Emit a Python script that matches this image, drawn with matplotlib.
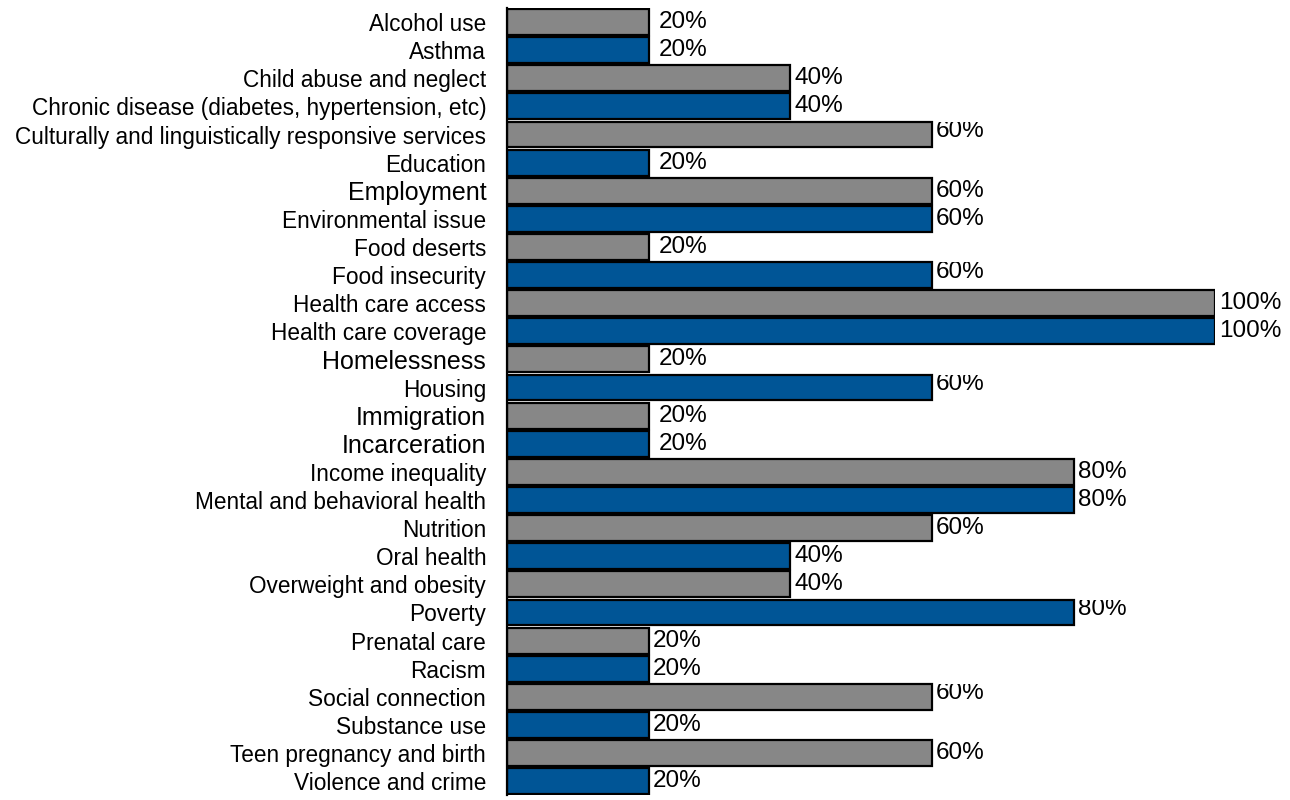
import matplotlib
matplotlib.use("Agg")
import matplotlib.pyplot as plt
from matplotlib.patches import Rectangle

plt.rcParams['font.family'] = ['Liberation Sans', 'DejaVu Sans']

categories = [
    "Alcohol use", "Asthma", "Child abuse and neglect",
    "Chronic disease (diabetes, hypertension, etc)",
    "Culturally and linguistically responsive services", "Education",
    "Employment", "Environmental issue", "Food deserts", "Food insecurity",
    "Health care access", "Health care coverage", "Homelessness", "Housing",
    "Immigration", "Incarceration", "Income inequality",
    "Mental and behavioral health", "Nutrition", "Oral health",
    "Overweight and obesity", "Poverty", "Prenatal care", "Racism",
    "Social connection", "Substance use", "Teen pregnancy and birth",
    "Violence and crime",
]
values = [20, 20, 40, 40, 60, 20, 60, 60, 20, 60, 100, 100, 20, 60, 20, 20,
          80, 80, 60, 40, 40, 80, 20, 20, 60, 20, 60, 20]
value_labels = [f"{v}%" for v in values]
big_labels = ["Employment", "Homelessness", "Immigration", "Incarceration"]
shifted_labels = ["Culturally and linguistically responsive services",
                  "Food insecurity", "Housing", "Poverty",
                  "Social connection"]
wide_gap_labels = ["Alcohol use", "Asthma", "Education", "Food deserts",
                   "Homelessness", "Immigration", "Incarceration"]

colors = ["#878787" if i % 2 == 0 else "#005596" for i in range(len(categories))]

fig = plt.figure(figsize=(12.9, 8.0), dpi=100)
ax = fig.add_axes([0.393, 0.006, 0.549, 0.984])

y = list(range(len(categories)))
bars = ax.barh(y, values, height=0.92, color=colors, edgecolor="black",
               linewidth=1.6)
ax.set_xlim(0, 100)
ax.set_ylim(len(categories) - 0.5, -0.5)

ax.set_yticks(y)
ax.set_yticklabels(categories)
for lab in ax.get_yticklabels():
    if lab.get_text() in big_labels:
        lab.set_fontsize(18)
    else:
        lab.set_fontsize(16.3)
ax.tick_params(axis='y', length=0, pad=15)
ax.set_xticks([])
for s in ["top", "right", "bottom"]:
    ax.spines[s].set_visible(False)
ax.spines["left"].set_linewidth(1.6)

for i, (b, v, t) in enumerate(zip(bars, values, value_labels)):
    cy = b.get_y() + b.get_height() / 2
    gap = 1.5 if categories[i] in wide_gap_labels else 0.6
    if categories[i] in shifted_labels:
        txt = ax.text(v + gap, cy - 0.12, t, va="center", ha="left",
                      fontsize=17.5)
        clip = Rectangle((v, b.get_y()), 40, b.get_height(),
                         transform=ax.transData)
        txt.set_clip_on(True)
        txt.set_clip_path(clip)
    else:
        ax.text(v + gap, cy, t, va="center", ha="left", fontsize=17.5,
                clip_on=False)

fig.savefig("out.png", dpi=100)
